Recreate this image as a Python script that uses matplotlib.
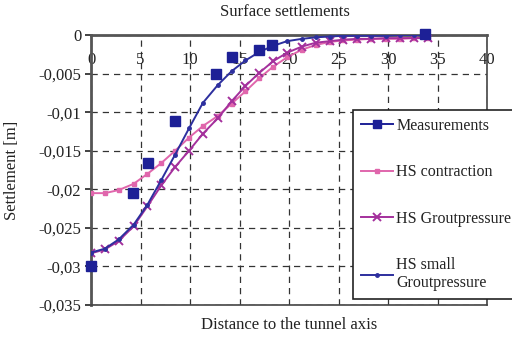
import matplotlib
matplotlib.use("Agg")
import matplotlib.pyplot as plt
from matplotlib.lines import Line2D

plt.rcParams['font.family'] = ['Liberation Serif', 'DejaVu Serif']

# ---- data ----
meas_x = [0, 4.2, 5.8, 8.5, 12.6, 14.2, 17.0, 18.3, 33.7]
meas_y = [-0.0300, -0.0205, -0.0166, -0.0112, -0.0051, -0.0028, -0.0019, -0.0013, 0.0001]

hs_x = [0, 1.4, 2.8, 4.3, 5.7, 7.1, 8.5, 9.9, 11.3, 12.8, 14.2, 15.6, 17.0,
        18.4, 19.8, 21.3, 22.7, 24.1, 25.5, 26.9, 28.3, 29.8, 31.2, 32.6, 34.0]
contraction_y = [-0.0205, -0.0205, -0.0201, -0.0193, -0.0180, -0.0166, -0.0150,
                 -0.0133, -0.0118, -0.0105, -0.0089, -0.0073, -0.0056, -0.0041,
                 -0.0029, -0.0019, -0.0013, -0.0009, -0.0007, -0.0006, -0.0005,
                 -0.0005, -0.0005, -0.0004, -0.0004]
grout_y = [-0.0283, -0.0278, -0.0267, -0.0248, -0.0222, -0.0195, -0.0171,
           -0.0150, -0.0128, -0.0108, -0.0086, -0.0066, -0.0049, -0.0034,
           -0.0023, -0.0015, -0.0010, -0.0008, -0.0006, -0.0005, -0.0005,
           -0.0004, -0.0004, -0.0004, -0.0004]
small_y = [-0.0282, -0.0277, -0.0265, -0.0246, -0.0220, -0.0188, -0.0155,
           -0.0121, -0.0088, -0.0065, -0.0047, -0.0033, -0.0022, -0.0014,
           -0.0008, -0.0005, -0.0003, -0.0002, -0.0001, -0.0001, -0.0001,
           -0.0001, 0.0000, 0.0000, 0.0000]

x_ticks = [0, 5, 10, 15, 20, 25, 30, 35, 40]
y_ticks = [0, -0.005, -0.01, -0.015, -0.02, -0.025, -0.03, -0.035]
y_tick_labels = ['0', '-0,005', '-0,01', '-0,015', '-0,02', '-0,025', '-0,03', '-0,035']

names = ['Measurements', 'HS contraction', 'HS Groutpressure', 'HS small\nGroutpressure']
c_meas = '#1d2096'
c_contr = '#e066ac'
c_grout = '#a4309c'
c_small = '#2d2f9e'

fig = plt.figure(figsize=(5.12, 3.37), dpi=100)
ax = fig.add_axes([91/512, 1-305/337, (487-91)/512, (305-35)/337])

ax.set_xlim(0, 40)
ax.set_ylim(-0.035, 0)

ax.grid(True, color='#333333', linestyle=(0, (5, 4)), linewidth=0.9)
ax.set_axisbelow(True)

ax.plot(hs_x, contraction_y, color=c_contr, lw=1.4, marker='s', ms=3.5, zorder=3)
ax.plot(hs_x, grout_y, color=c_grout, lw=1.4, marker='x', ms=6, mew=1.4, zorder=3)
ax.plot(hs_x, small_y, color=c_small, lw=1.4, marker='o', ms=2.5, zorder=4)
ax.plot(meas_x, meas_y, color=c_meas, lw=0, marker='s', ms=7, zorder=5, clip_on=False)

ax.set_xticks(x_ticks)
ax.set_yticks(y_ticks)
ax.set_yticklabels(y_tick_labels)
ax.xaxis.set_ticks_position('top')
ax.tick_params(axis='x', direction='in', length=0, pad=-24, labelsize=12, colors='#222222')
ax.tick_params(axis='y', direction='out', length=4, width=1.2, labelsize=12, colors='#222222', pad=3)

for s in ['left', 'top']:
    ax.spines[s].set_linewidth(2.0)
    ax.spines[s].set_color('#555555')
for s in ['right', 'bottom']:
    ax.spines[s].set_linewidth(1.2)
    ax.spines[s].set_color('#444444')

fig.text(285/512, 1-12/337, 'Surface settlements', ha='center', va='center', fontsize=12, color='#222222')
fig.text(289/512, 1-325/337, 'Distance to the tunnel axis', ha='center', va='center', fontsize=12, color='#222222')
fig.text(12/512, 1-170/337, 'Settlement [m]', ha='center', va='center', rotation=90, fontsize=12, color='#222222')

handles = [
    Line2D([], [], color=c_meas, lw=1.4, marker='s', ms=6),
    Line2D([], [], color=c_contr, lw=1.4, marker='s', ms=3.5),
    Line2D([], [], color=c_grout, lw=1.4, marker='x', ms=6, mew=1.4),
    Line2D([], [], color=c_small, lw=1.4, marker='o', ms=2.5),
]
leg = fig.legend(handles, names, loc='upper left', bbox_to_anchor=(353/512, 1-110/337),
                 fontsize=11.5, frameon=True, fancybox=False, framealpha=1,
                 edgecolor='#222222', handlelength=2.0, handletextpad=0.2,
                 labelspacing=1.9, borderpad=0.5, borderaxespad=0)
leg.get_frame().set_linewidth(1.2)
for t in leg.get_texts():
    t.set_color('#222222')

fig.savefig('out.png', dpi=100)
